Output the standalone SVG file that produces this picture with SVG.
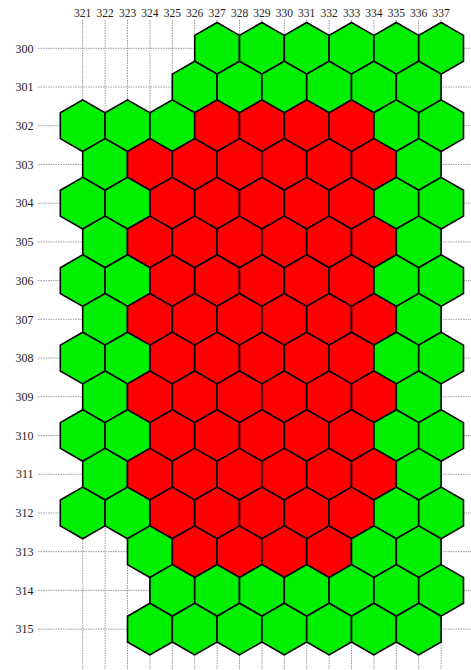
<svg xmlns="http://www.w3.org/2000/svg" width="471" height="670" viewBox="0 0 471 670">
<style>
.grid line{stroke:#9a96a6;stroke-width:1;stroke-dasharray:1.5 1;fill:none}
.g{fill:#00f000}
.r{fill:#ff0000}
.hex{stroke:#000;stroke-width:1.6;stroke-linejoin:miter}
.cl{font-family:"Liberation Serif",serif;font-size:11.5px;fill:#222;text-anchor:middle}
.rl{font-family:"Liberation Serif",serif;font-size:12px;fill:#222;text-anchor:end}
</style>
<defs>
<polygon id="hex" class="hex" points="0,-25.81 22.4,-12.91 22.4,12.91 0,25.81 -22.4,12.91 -22.4,-12.91"/>
</defs>
<rect width="471" height="670" fill="#fff"/>
<g id="labels">
<text class="cl" x="82.7" y="16.5">321</text>
<text class="cl" x="105.1" y="16.5">322</text>
<text class="cl" x="127.5" y="16.5">323</text>
<text class="cl" x="149.9" y="16.5">324</text>
<text class="cl" x="172.3" y="16.5">325</text>
<text class="cl" x="194.7" y="16.5">326</text>
<text class="cl" x="217.1" y="16.5">327</text>
<text class="cl" x="239.5" y="16.5">328</text>
<text class="cl" x="261.9" y="16.5">329</text>
<text class="cl" x="284.3" y="16.5">330</text>
<text class="cl" x="306.7" y="16.5">331</text>
<text class="cl" x="329.1" y="16.5">332</text>
<text class="cl" x="351.5" y="16.5">333</text>
<text class="cl" x="373.9" y="16.5">334</text>
<text class="cl" x="396.3" y="16.5">335</text>
<text class="cl" x="418.7" y="16.5">336</text>
<text class="cl" x="441.1" y="16.5">337</text>
<text class="rl" x="33.5" y="52.5">300</text>
<text class="rl" x="33.5" y="91.2">301</text>
<text class="rl" x="33.5" y="129.9">302</text>
<text class="rl" x="33.5" y="168.7">303</text>
<text class="rl" x="33.5" y="207.4">304</text>
<text class="rl" x="33.5" y="246.1">305</text>
<text class="rl" x="33.5" y="284.8">306</text>
<text class="rl" x="33.5" y="323.5">307</text>
<text class="rl" x="33.5" y="362.3">308</text>
<text class="rl" x="33.5" y="401">309</text>
<text class="rl" x="33.5" y="439.7">310</text>
<text class="rl" x="33.5" y="478.4">311</text>
<text class="rl" x="33.5" y="517.1">312</text>
<text class="rl" x="33.5" y="555.9">313</text>
<text class="rl" x="33.5" y="594.6">314</text>
<text class="rl" x="33.5" y="633.3">315</text>
</g>
<g id="connectors" class="grid">
<line x1="82.7" y1="20" x2="82.7" y2="670"/>
<line x1="105.1" y1="20" x2="105.1" y2="670"/>
<line x1="127.5" y1="20" x2="127.5" y2="670"/>
<line x1="149.9" y1="20" x2="149.9" y2="670"/>
<line x1="172.3" y1="20" x2="172.3" y2="670"/>
<line x1="194.7" y1="20" x2="194.7" y2="670"/>
<line x1="217.1" y1="20" x2="217.1" y2="670"/>
<line x1="239.5" y1="20" x2="239.5" y2="670"/>
<line x1="261.9" y1="20" x2="261.9" y2="670"/>
<line x1="284.3" y1="20" x2="284.3" y2="670"/>
<line x1="306.7" y1="20" x2="306.7" y2="670"/>
<line x1="329.1" y1="20" x2="329.1" y2="670"/>
<line x1="351.5" y1="20" x2="351.5" y2="670"/>
<line x1="373.9" y1="20" x2="373.9" y2="670"/>
<line x1="396.3" y1="20" x2="396.3" y2="670"/>
<line x1="418.7" y1="20" x2="418.7" y2="670"/>
<line x1="441.1" y1="20" x2="441.1" y2="670"/>
<line x1="38" y1="48.3" x2="471" y2="48.3"/>
<line x1="38" y1="87.02" x2="471" y2="87.02"/>
<line x1="38" y1="125.74" x2="471" y2="125.74"/>
<line x1="38" y1="164.46" x2="471" y2="164.46"/>
<line x1="38" y1="203.18" x2="471" y2="203.18"/>
<line x1="38" y1="241.9" x2="471" y2="241.9"/>
<line x1="38" y1="280.62" x2="471" y2="280.62"/>
<line x1="38" y1="319.34" x2="471" y2="319.34"/>
<line x1="38" y1="358.06" x2="471" y2="358.06"/>
<line x1="38" y1="396.78" x2="471" y2="396.78"/>
<line x1="38" y1="435.5" x2="471" y2="435.5"/>
<line x1="38" y1="474.22" x2="471" y2="474.22"/>
<line x1="38" y1="512.94" x2="471" y2="512.94"/>
<line x1="38" y1="551.66" x2="471" y2="551.66"/>
<line x1="38" y1="590.38" x2="471" y2="590.38"/>
<line x1="38" y1="629.1" x2="471" y2="629.1"/>
</g>
<g id="row300">
<g id="h300-327" class="g" transform="translate(217.1,48.3)"><use href="#hex"/></g>
<g id="h300-329" class="g" transform="translate(261.9,48.3)"><use href="#hex"/></g>
<g id="h300-331" class="g" transform="translate(306.7,48.3)"><use href="#hex"/></g>
<g id="h300-333" class="g" transform="translate(351.5,48.3)"><use href="#hex"/></g>
<g id="h300-335" class="g" transform="translate(396.3,48.3)"><use href="#hex"/></g>
<g id="h300-337" class="g" transform="translate(441.1,48.3)"><use href="#hex"/></g>
</g>
<g id="row301">
<g id="h301-326" class="g" transform="translate(194.7,87.02)"><use href="#hex"/></g>
<g id="h301-328" class="g" transform="translate(239.5,87.02)"><use href="#hex"/></g>
<g id="h301-330" class="g" transform="translate(284.3,87.02)"><use href="#hex"/></g>
<g id="h301-332" class="g" transform="translate(329.1,87.02)"><use href="#hex"/></g>
<g id="h301-334" class="g" transform="translate(373.9,87.02)"><use href="#hex"/></g>
<g id="h301-336" class="g" transform="translate(418.7,87.02)"><use href="#hex"/></g>
</g>
<g id="row302">
<g id="h302-321" class="g" transform="translate(82.7,125.74)"><use href="#hex"/></g>
<g id="h302-323" class="g" transform="translate(127.5,125.74)"><use href="#hex"/></g>
<g id="h302-325" class="g" transform="translate(172.3,125.74)"><use href="#hex"/></g>
<g id="h302-327" class="r" transform="translate(217.1,125.74)"><use href="#hex"/></g>
<g id="h302-329" class="r" transform="translate(261.9,125.74)"><use href="#hex"/></g>
<g id="h302-331" class="r" transform="translate(306.7,125.74)"><use href="#hex"/></g>
<g id="h302-333" class="r" transform="translate(351.5,125.74)"><use href="#hex"/></g>
<g id="h302-335" class="g" transform="translate(396.3,125.74)"><use href="#hex"/></g>
<g id="h302-337" class="g" transform="translate(441.1,125.74)"><use href="#hex"/></g>
</g>
<g id="row303">
<g id="h303-322" class="g" transform="translate(105.1,164.46)"><use href="#hex"/></g>
<g id="h303-324" class="r" transform="translate(149.9,164.46)"><use href="#hex"/></g>
<g id="h303-326" class="r" transform="translate(194.7,164.46)"><use href="#hex"/></g>
<g id="h303-328" class="r" transform="translate(239.5,164.46)"><use href="#hex"/></g>
<g id="h303-330" class="r" transform="translate(284.3,164.46)"><use href="#hex"/></g>
<g id="h303-332" class="r" transform="translate(329.1,164.46)"><use href="#hex"/></g>
<g id="h303-334" class="r" transform="translate(373.9,164.46)"><use href="#hex"/></g>
<g id="h303-336" class="g" transform="translate(418.7,164.46)"><use href="#hex"/></g>
</g>
<g id="row304">
<g id="h304-321" class="g" transform="translate(82.7,203.18)"><use href="#hex"/></g>
<g id="h304-323" class="g" transform="translate(127.5,203.18)"><use href="#hex"/></g>
<g id="h304-325" class="r" transform="translate(172.3,203.18)"><use href="#hex"/></g>
<g id="h304-327" class="r" transform="translate(217.1,203.18)"><use href="#hex"/></g>
<g id="h304-329" class="r" transform="translate(261.9,203.18)"><use href="#hex"/></g>
<g id="h304-331" class="r" transform="translate(306.7,203.18)"><use href="#hex"/></g>
<g id="h304-333" class="r" transform="translate(351.5,203.18)"><use href="#hex"/></g>
<g id="h304-335" class="g" transform="translate(396.3,203.18)"><use href="#hex"/></g>
<g id="h304-337" class="g" transform="translate(441.1,203.18)"><use href="#hex"/></g>
</g>
<g id="row305">
<g id="h305-322" class="g" transform="translate(105.1,241.9)"><use href="#hex"/></g>
<g id="h305-324" class="r" transform="translate(149.9,241.9)"><use href="#hex"/></g>
<g id="h305-326" class="r" transform="translate(194.7,241.9)"><use href="#hex"/></g>
<g id="h305-328" class="r" transform="translate(239.5,241.9)"><use href="#hex"/></g>
<g id="h305-330" class="r" transform="translate(284.3,241.9)"><use href="#hex"/></g>
<g id="h305-332" class="r" transform="translate(329.1,241.9)"><use href="#hex"/></g>
<g id="h305-334" class="r" transform="translate(373.9,241.9)"><use href="#hex"/></g>
<g id="h305-336" class="g" transform="translate(418.7,241.9)"><use href="#hex"/></g>
</g>
<g id="row306">
<g id="h306-321" class="g" transform="translate(82.7,280.62)"><use href="#hex"/></g>
<g id="h306-323" class="g" transform="translate(127.5,280.62)"><use href="#hex"/></g>
<g id="h306-325" class="r" transform="translate(172.3,280.62)"><use href="#hex"/></g>
<g id="h306-327" class="r" transform="translate(217.1,280.62)"><use href="#hex"/></g>
<g id="h306-329" class="r" transform="translate(261.9,280.62)"><use href="#hex"/></g>
<g id="h306-331" class="r" transform="translate(306.7,280.62)"><use href="#hex"/></g>
<g id="h306-333" class="r" transform="translate(351.5,280.62)"><use href="#hex"/></g>
<g id="h306-335" class="g" transform="translate(396.3,280.62)"><use href="#hex"/></g>
<g id="h306-337" class="g" transform="translate(441.1,280.62)"><use href="#hex"/></g>
</g>
<g id="row307">
<g id="h307-322" class="g" transform="translate(105.1,319.34)"><use href="#hex"/></g>
<g id="h307-324" class="r" transform="translate(149.9,319.34)"><use href="#hex"/></g>
<g id="h307-326" class="r" transform="translate(194.7,319.34)"><use href="#hex"/></g>
<g id="h307-328" class="r" transform="translate(239.5,319.34)"><use href="#hex"/></g>
<g id="h307-330" class="r" transform="translate(284.3,319.34)"><use href="#hex"/></g>
<g id="h307-332" class="r" transform="translate(329.1,319.34)"><use href="#hex"/></g>
<g id="h307-334" class="r" transform="translate(373.9,319.34)"><use href="#hex"/></g>
<g id="h307-336" class="g" transform="translate(418.7,319.34)"><use href="#hex"/></g>
</g>
<g id="row308">
<g id="h308-321" class="g" transform="translate(82.7,358.06)"><use href="#hex"/></g>
<g id="h308-323" class="g" transform="translate(127.5,358.06)"><use href="#hex"/></g>
<g id="h308-325" class="r" transform="translate(172.3,358.06)"><use href="#hex"/></g>
<g id="h308-327" class="r" transform="translate(217.1,358.06)"><use href="#hex"/></g>
<g id="h308-329" class="r" transform="translate(261.9,358.06)"><use href="#hex"/></g>
<g id="h308-331" class="r" transform="translate(306.7,358.06)"><use href="#hex"/></g>
<g id="h308-333" class="r" transform="translate(351.5,358.06)"><use href="#hex"/></g>
<g id="h308-335" class="g" transform="translate(396.3,358.06)"><use href="#hex"/></g>
<g id="h308-337" class="g" transform="translate(441.1,358.06)"><use href="#hex"/></g>
</g>
<g id="row309">
<g id="h309-322" class="g" transform="translate(105.1,396.78)"><use href="#hex"/></g>
<g id="h309-324" class="r" transform="translate(149.9,396.78)"><use href="#hex"/></g>
<g id="h309-326" class="r" transform="translate(194.7,396.78)"><use href="#hex"/></g>
<g id="h309-328" class="r" transform="translate(239.5,396.78)"><use href="#hex"/></g>
<g id="h309-330" class="r" transform="translate(284.3,396.78)"><use href="#hex"/></g>
<g id="h309-332" class="r" transform="translate(329.1,396.78)"><use href="#hex"/></g>
<g id="h309-334" class="r" transform="translate(373.9,396.78)"><use href="#hex"/></g>
<g id="h309-336" class="g" transform="translate(418.7,396.78)"><use href="#hex"/></g>
</g>
<g id="row310">
<g id="h310-321" class="g" transform="translate(82.7,435.5)"><use href="#hex"/></g>
<g id="h310-323" class="g" transform="translate(127.5,435.5)"><use href="#hex"/></g>
<g id="h310-325" class="r" transform="translate(172.3,435.5)"><use href="#hex"/></g>
<g id="h310-327" class="r" transform="translate(217.1,435.5)"><use href="#hex"/></g>
<g id="h310-329" class="r" transform="translate(261.9,435.5)"><use href="#hex"/></g>
<g id="h310-331" class="r" transform="translate(306.7,435.5)"><use href="#hex"/></g>
<g id="h310-333" class="r" transform="translate(351.5,435.5)"><use href="#hex"/></g>
<g id="h310-335" class="g" transform="translate(396.3,435.5)"><use href="#hex"/></g>
<g id="h310-337" class="g" transform="translate(441.1,435.5)"><use href="#hex"/></g>
</g>
<g id="row311">
<g id="h311-322" class="g" transform="translate(105.1,474.22)"><use href="#hex"/></g>
<g id="h311-324" class="r" transform="translate(149.9,474.22)"><use href="#hex"/></g>
<g id="h311-326" class="r" transform="translate(194.7,474.22)"><use href="#hex"/></g>
<g id="h311-328" class="r" transform="translate(239.5,474.22)"><use href="#hex"/></g>
<g id="h311-330" class="r" transform="translate(284.3,474.22)"><use href="#hex"/></g>
<g id="h311-332" class="r" transform="translate(329.1,474.22)"><use href="#hex"/></g>
<g id="h311-334" class="r" transform="translate(373.9,474.22)"><use href="#hex"/></g>
<g id="h311-336" class="g" transform="translate(418.7,474.22)"><use href="#hex"/></g>
</g>
<g id="row312">
<g id="h312-321" class="g" transform="translate(82.7,512.94)"><use href="#hex"/></g>
<g id="h312-323" class="g" transform="translate(127.5,512.94)"><use href="#hex"/></g>
<g id="h312-325" class="r" transform="translate(172.3,512.94)"><use href="#hex"/></g>
<g id="h312-327" class="r" transform="translate(217.1,512.94)"><use href="#hex"/></g>
<g id="h312-329" class="r" transform="translate(261.9,512.94)"><use href="#hex"/></g>
<g id="h312-331" class="r" transform="translate(306.7,512.94)"><use href="#hex"/></g>
<g id="h312-333" class="r" transform="translate(351.5,512.94)"><use href="#hex"/></g>
<g id="h312-335" class="g" transform="translate(396.3,512.94)"><use href="#hex"/></g>
<g id="h312-337" class="g" transform="translate(441.1,512.94)"><use href="#hex"/></g>
</g>
<g id="row313">
<g id="h313-324" class="g" transform="translate(149.9,551.66)"><use href="#hex"/></g>
<g id="h313-326" class="r" transform="translate(194.7,551.66)"><use href="#hex"/></g>
<g id="h313-328" class="r" transform="translate(239.5,551.66)"><use href="#hex"/></g>
<g id="h313-330" class="r" transform="translate(284.3,551.66)"><use href="#hex"/></g>
<g id="h313-332" class="r" transform="translate(329.1,551.66)"><use href="#hex"/></g>
<g id="h313-334" class="g" transform="translate(373.9,551.66)"><use href="#hex"/></g>
<g id="h313-336" class="g" transform="translate(418.7,551.66)"><use href="#hex"/></g>
</g>
<g id="row314">
<g id="h314-325" class="g" transform="translate(172.3,590.38)"><use href="#hex"/></g>
<g id="h314-327" class="g" transform="translate(217.1,590.38)"><use href="#hex"/></g>
<g id="h314-329" class="g" transform="translate(261.9,590.38)"><use href="#hex"/></g>
<g id="h314-331" class="g" transform="translate(306.7,590.38)"><use href="#hex"/></g>
<g id="h314-333" class="g" transform="translate(351.5,590.38)"><use href="#hex"/></g>
<g id="h314-335" class="g" transform="translate(396.3,590.38)"><use href="#hex"/></g>
<g id="h314-337" class="g" transform="translate(441.1,590.38)"><use href="#hex"/></g>
</g>
<g id="row315">
<g id="h315-324" class="g" transform="translate(149.9,629.1)"><use href="#hex"/></g>
<g id="h315-326" class="g" transform="translate(194.7,629.1)"><use href="#hex"/></g>
<g id="h315-328" class="g" transform="translate(239.5,629.1)"><use href="#hex"/></g>
<g id="h315-330" class="g" transform="translate(284.3,629.1)"><use href="#hex"/></g>
<g id="h315-332" class="g" transform="translate(329.1,629.1)"><use href="#hex"/></g>
<g id="h315-334" class="g" transform="translate(373.9,629.1)"><use href="#hex"/></g>
<g id="h315-336" class="g" transform="translate(418.7,629.1)"><use href="#hex"/></g>
</g>
</svg>
